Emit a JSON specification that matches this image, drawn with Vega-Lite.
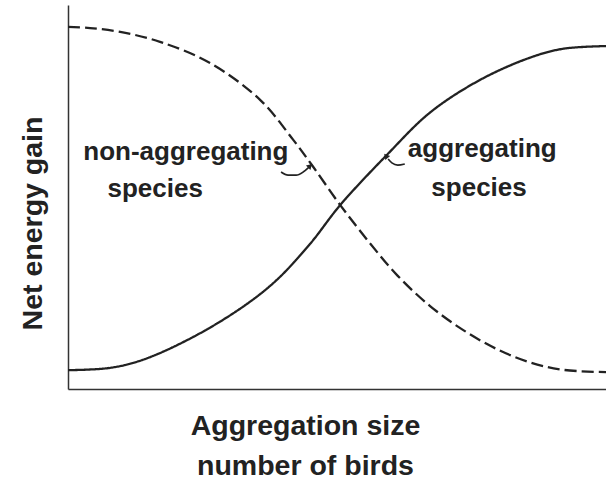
{
  "$schema": "https://vega.github.io/schema/vega-lite/v6.json",
  "width": 538,
  "height": 384,
  "autosize": {"type": "none"},
  "padding": {"left": 68, "top": 5, "right": 0, "bottom": 97},
  "background": "white",
  "config": {
    "view": {"stroke": null},
    "font": "Liberation Sans"
  },
  "datasets": {
    "curves": [
      {"series": "non-aggregating", "x": 0, "y": 94.3},
      {"series": "non-aggregating", "x": 4.1, "y": 94.0},
      {"series": "non-aggregating", "x": 9.7, "y": 93.0},
      {"series": "non-aggregating", "x": 17.1, "y": 90.4},
      {"series": "non-aggregating", "x": 26.4, "y": 84.9},
      {"series": "non-aggregating", "x": 35.7, "y": 75.3},
      {"series": "non-aggregating", "x": 41.8, "y": 65.0},
      {"series": "non-aggregating", "x": 45.5, "y": 58.0},
      {"series": "non-aggregating", "x": 50.6, "y": 47.9},
      {"series": "non-aggregating", "x": 56.1, "y": 38.0},
      {"series": "non-aggregating", "x": 61.2, "y": 29.6},
      {"series": "non-aggregating", "x": 67.3, "y": 21.6},
      {"series": "non-aggregating", "x": 73.4, "y": 15.4},
      {"series": "non-aggregating", "x": 79.7, "y": 10.4},
      {"series": "non-aggregating", "x": 85.9, "y": 6.9},
      {"series": "non-aggregating", "x": 92.0, "y": 5.0},
      {"series": "non-aggregating", "x": 100, "y": 4.4},
      {"series": "aggregating", "x": 0, "y": 4.9},
      {"series": "aggregating", "x": 7.8, "y": 5.5},
      {"series": "aggregating", "x": 13.9, "y": 7.6},
      {"series": "aggregating", "x": 23.2, "y": 13.5},
      {"series": "aggregating", "x": 32.5, "y": 21.4},
      {"series": "aggregating", "x": 38.8, "y": 28.4},
      {"series": "aggregating", "x": 45.0, "y": 37.8},
      {"series": "aggregating", "x": 50.6, "y": 47.9},
      {"series": "aggregating", "x": 59.3, "y": 61.0},
      {"series": "aggregating", "x": 67.3, "y": 72.0},
      {"series": "aggregating", "x": 76.6, "y": 80.5},
      {"series": "aggregating", "x": 85.9, "y": 86.3},
      {"series": "aggregating", "x": 92.0, "y": 88.6},
      {"series": "aggregating", "x": 100, "y": 89.3}
    ],
    "labels": [
      {"text": "non-aggregating", "x": 21.9, "y": 59.6},
      {"text": "species", "x": 16.2, "y": 50.0},
      {"text": "aggregating", "x": 77.0, "y": 60.4},
      {"text": "species", "x": 76.4, "y": 50.3}
    ],
    "arrows": [
      {"arrow": "non-aggregating", "order": 1, "x": 39.6, "y": 56.5},
      {"arrow": "non-aggregating", "order": 2, "x": 40.9, "y": 55.7},
      {"arrow": "non-aggregating", "order": 3, "x": 42.4, "y": 55.7},
      {"arrow": "non-aggregating", "order": 4, "x": 43.7, "y": 56.5},
      {"arrow": "non-aggregating", "order": 5, "x": 44.8, "y": 57.8},
      {"arrow": "aggregating", "order": 1, "x": 62.6, "y": 58.6},
      {"arrow": "aggregating", "order": 2, "x": 61.3, "y": 58.3},
      {"arrow": "aggregating", "order": 3, "x": 60.2, "y": 58.9},
      {"arrow": "aggregating", "order": 4, "x": 59.5, "y": 59.9}
    ],
    "heads": [
      {"arrow": "non-aggregating", "x": 45.0, "y": 58.1},
      {"arrow": "aggregating", "x": 59.1, "y": 60.7}
    ]
  },
  "layer": [
    {
      "data": {"name": "curves"},
      "mark": {"type": "line", "interpolate": "catmull-rom", "color": "#222", "strokeWidth": 2.3},
      "encoding": {
        "x": {
          "field": "x", "type": "quantitative",
          "scale": {"domain": [0, 100], "nice": false},
          "axis": {
            "ticks": false, "labels": false, "grid": false,
            "domainColor": "#333", "domainWidth": 1.5,
            "title": ["Aggregation size", "number of birds"],
            "titleFontSize": 28.5, "titleFontWeight": "bold", "titleColor": "#222",
            "titleX": 237, "titleY": 22, "titleBaseline": "top", "titleLineHeight": 40,
            "titleAlign": "center"
          }
        },
        "y": {
          "field": "y", "type": "quantitative",
          "scale": {"domain": [0, 100], "nice": false},
          "axis": {
            "ticks": false, "labels": false, "grid": false,
            "domainColor": "#333", "domainWidth": 1.5,
            "title": "Net energy gain",
            "titleFontSize": 28.5, "titleFontWeight": "bold", "titleColor": "#222",
            "titleX": -27, "titleY": 218, "titleAngle": 270,
            "titleBaseline": "alphabetic", "titleAlign": "center"
          }
        },
        "strokeDash": {
          "field": "series", "type": "nominal",
          "scale": {"domain": ["aggregating", "non-aggregating"], "range": [[1, 0], [12, 5]]},
          "legend": null
        }
      }
    },
    {
      "data": {"name": "labels"},
      "mark": {"type": "text", "fontSize": 26, "fontWeight": "bold", "color": "#222", "align": "center", "baseline": "alphabetic"},
      "encoding": {
        "x": {"field": "x", "type": "quantitative"},
        "y": {"field": "y", "type": "quantitative"},
        "text": {"field": "text"}
      }
    },
    {
      "data": {"name": "arrows"},
      "mark": {"type": "line", "interpolate": "monotone", "color": "#222", "strokeWidth": 1.6},
      "encoding": {
        "x": {"field": "x", "type": "quantitative"},
        "y": {"field": "y", "type": "quantitative"},
        "detail": {"field": "arrow"},
        "order": {"field": "order", "type": "quantitative"}
      }
    },
    {
      "data": {"name": "heads"},
      "transform": [{"filter": "datum.arrow === 'non-aggregating'"}],
      "mark": {"type": "point", "shape": "triangle-up", "filled": true, "color": "#222", "opacity": 1, "size": 40, "angle": 45},
      "encoding": {
        "x": {"field": "x", "type": "quantitative"},
        "y": {"field": "y", "type": "quantitative"}
      }
    },
    {
      "data": {"name": "heads"},
      "transform": [{"filter": "datum.arrow === 'aggregating'"}],
      "mark": {"type": "point", "shape": "triangle-up", "filled": true, "color": "#222", "opacity": 1, "size": 40, "angle": -40},
      "encoding": {
        "x": {"field": "x", "type": "quantitative"},
        "y": {"field": "y", "type": "quantitative"}
      }
    }
  ]
}
